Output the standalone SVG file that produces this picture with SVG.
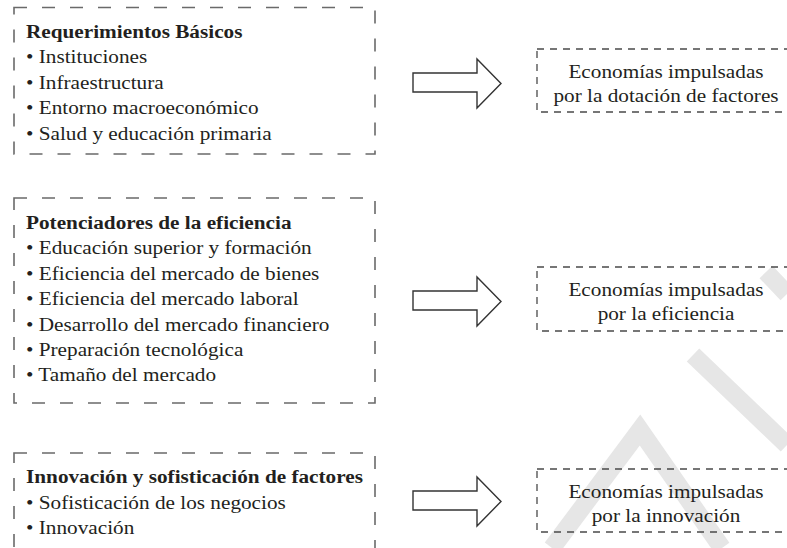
<svg xmlns="http://www.w3.org/2000/svg" width="787" height="548" viewBox="0 0 787 548">
<style>
.bg{fill:#ffffff}
.wm{fill:none;stroke:#e6e6e6;stroke-width:18;stroke-linecap:butt;stroke-linejoin:miter}
.lbox{fill:none;stroke:#6a6a6a;stroke-width:1.6;stroke-dasharray:13 15}
.rbox{fill:none;stroke:#4a4a4a;stroke-width:1.3;stroke-dasharray:7 6}
.arrow{fill:#ffffff;stroke:#333333;stroke-width:1.4;stroke-linejoin:miter}
text{font-family:"Liberation Serif","Times New Roman",serif;font-size:19.5px;fill:#231f20}
.b{font-weight:bold}
.c{text-anchor:middle}
</style>
<rect class="bg" x="0" y="0" width="787" height="548"/>
<g id="watermark">
<polyline class="wm" points="552,548 640,430 722,548"/>
<line class="wm" x1="693" y1="355" x2="787" y2="445"/>
<line class="wm" x1="766" y1="272" x2="787" y2="294"/>
</g>
<g id="connectors">
<polygon class="arrow" points="413,73 477,73 477,59 501,83.5 477,108 477,92 413,92"/>
<polygon class="arrow" transform="translate(0,218)" points="413,73 477,73 477,59 501,83.5 477,108 477,92 413,92"/>
<polygon class="arrow" transform="translate(0,418)" points="413,73 477,73 477,59 501,83.5 477,108 477,92 413,92"/>
</g>
<g id="basicos">
<rect class="lbox" x="14" y="7.5" width="361" height="146.5"/>
<g transform="translate(26,0) scale(1.09,1)">
<text class="b" x="0" y="38">Requerimientos Básicos</text>
<text x="0" y="63.4">• Instituciones</text>
<text x="0" y="88.8">• Infraestructura</text>
<text x="0" y="114.2">• Entorno macroeconómico</text>
<text x="0" y="139.6">• Salud y educación primaria</text>
</g>
</g>
<g id="eficiencia">
<rect class="lbox" x="14" y="198" width="361" height="205"/>
<g transform="translate(26,0) scale(1.09,1)">
<text class="b" x="0" y="229">Potenciadores de la eficiencia</text>
<text x="0" y="254.5">• Educación superior y formación</text>
<text x="0" y="279.9">• Eficiencia del mercado de bienes</text>
<text x="0" y="305.3">• Eficiencia del mercado laboral</text>
<text x="0" y="330.7">• Desarrollo del mercado financiero</text>
<text x="0" y="356.1">• Preparación tecnológica</text>
<text x="0" y="381.5">• Tamaño del mercado</text>
</g>
</g>
<g id="innovacion">
<rect class="lbox" x="14" y="453" width="361" height="120"/>
<g transform="translate(26,0) scale(1.09,1)">
<text class="b" x="0" y="483.5">Innovación y sofisticación de factores</text>
<text x="0" y="508.9">• Sofisticación de los negocios</text>
<text x="0" y="534.3">• Innovación</text>
</g>
</g>
<g id="factores">
<rect class="rbox" x="537" y="49" width="260" height="63"/>
<g transform="translate(666,0) scale(1.09,1)">
<text class="c" x="0" y="78">Economías impulsadas</text>
<text class="c" x="0" y="102">por la dotación de factores</text>
</g>
</g>
<g id="eficiencia-out">
<rect class="rbox" x="537" y="267" width="260" height="64"/>
<g transform="translate(666,0) scale(1.09,1)">
<text class="c" x="0" y="296">Economías impulsadas</text>
<text class="c" x="0" y="320">por la eficiencia</text>
</g>
</g>
<g id="innovacion-out">
<rect class="rbox" x="537" y="469" width="260" height="63"/>
<g transform="translate(666,0) scale(1.09,1)">
<text class="c" x="0" y="498">Economías impulsadas</text>
<text class="c" x="0" y="522">por la innovación</text>
</g>
</g>
</svg>
